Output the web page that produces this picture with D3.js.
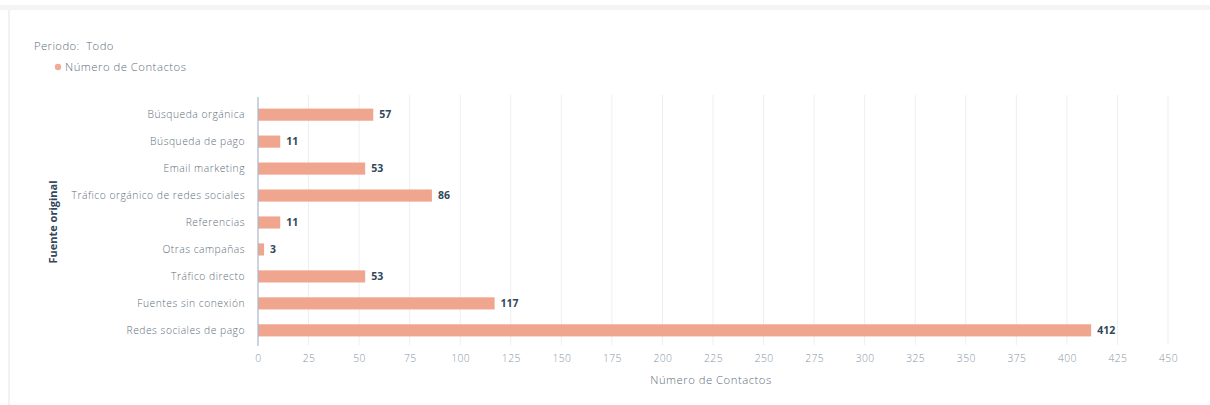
<!DOCTYPE html>
<html>
<head>
<meta charset="utf-8">
<script src="https://cdn.jsdelivr.net/npm/d3@7"></script>
<style>
  html, body { margin: 0; padding: 0; background: #fff; }
  body { width: 1210px; height: 405px; overflow: hidden; }
  svg { display: block; font-family: "Open Sans", "Noto Sans", sans-serif; }
</style>
</head>
<body>
<svg id="chart" width="1210" height="405"></svg>
<script>
const categories = [
  "Búsqueda orgánica",
  "Búsqueda de pago",
  "Email marketing",
  "Tráfico orgánico de redes sociales",
  "Referencias",
  "Otras campañas",
  "Tráfico directo",
  "Fuentes sin conexión",
  "Redes sociales de pago"
];
const contactValues = [57, 11, 53, 86, 11, 3, 53, 117, 412];
const xTicks = [0, 25, 50, 75, 100, 125, 150, 175, 200, 225, 250, 275, 300, 325, 350, 375, 400, 425, 450];
const periodLabel = "Periodo:  Todo";
const seriesName = "Número de Contactos";
const xAxisTitle = "Número de Contactos";
const yAxisTitle = "Fuente original";

const svg = d3.select("#chart");
const barColor = "#f0a58e";
const textColor = "#5f6e7d";
const valueColor = "#33475b";

// card frame
svg.append("rect").attr("x", 0).attr("y", 5).attr("width", 1210).attr("height", 5).attr("fill", "#f4f4f4");
svg.append("rect").attr("x", 8).attr("y", 10).attr("width", 2).attr("height", 395).attr("fill", "#f2f2f2");

const x = d3.scaleLinear().domain([0, 450]).range([258, 1168]);
const y = d3.scaleBand().domain(categories).range([100.5, 344.5]).paddingInner(0.55).paddingOuter(0.3);

// gridlines
svg.append("g").selectAll("line").data(xTicks.slice(1)).join("line")
  .attr("x1", d => x(d)).attr("x2", d => x(d))
  .attr("y1", 95).attr("y2", 345)
  .attr("stroke", "#eceff2").attr("stroke-width", 1);

// bars
svg.append("g").selectAll("rect").data(categories).join("rect")
  .attr("x", x(0))
  .attr("y", d => y(d))
  .attr("width", (d, i) => x(contactValues[i]) - x(0))
  .attr("height", y.bandwidth())
  .attr("fill", barColor);

// value labels
svg.append("g").selectAll("text").data(categories).join("text")
  .attr("x", (d, i) => x(contactValues[i]) + 6)
  .attr("y", d => y(d) + y.bandwidth() / 2)
  .attr("dy", "0.35em")
  .attr("font-size", 10.5)
  .attr("font-weight", 700)
  .attr("fill", valueColor)
  .text((d, i) => contactValues[i]);

// y axis
const yAxis = svg.append("g").attr("transform", `translate(${x(0)},0)`)
  .call(d3.axisLeft(y).tickSize(0).tickPadding(13));
yAxis.select(".domain").remove();
yAxis.selectAll("text").attr("font-size", 10.3).attr("fill", textColor)
  .attr("font-family", "'Open Sans', sans-serif").attr("font-weight", 300)
  .attr("letter-spacing", 0.5);
svg.append("line").attr("x1", x(0)).attr("x2", x(0)).attr("y1", 97).attr("y2", 346)
  .attr("stroke", "#a8b9cc").attr("stroke-width", 1.2);

// x axis
const xAxis = svg.append("g").attr("transform", "translate(0,345)")
  .call(d3.axisBottom(x).tickValues(xTicks).tickSize(0).tickPadding(10));
xAxis.select(".domain").remove();
xAxis.selectAll("text").attr("font-size", 10.3).attr("fill", "#8795a3")
  .attr("font-family", "'Open Sans', sans-serif").attr("font-weight", 300)
  .attr("letter-spacing", 0.4);

// axis titles
svg.append("text").attr("x", (x(0) + x(450)) / 2 - 2).attr("y", 384)
  .attr("text-anchor", "middle").attr("font-size", 11.3).attr("fill", textColor).attr("font-weight", 300)
  .attr("letter-spacing", 0.5)
  .text(xAxisTitle);
svg.append("text").attr("transform", "translate(57,222) rotate(-90)")
  .attr("text-anchor", "middle").attr("font-size", 11).attr("font-weight", 700).attr("fill", valueColor)
  .text(yAxisTitle);

// header
svg.append("text").attr("x", 34).attr("y", 50).attr("font-size", 11.3).attr("fill", textColor).attr("font-weight", 300)
  .attr("letter-spacing", 0.4)
  .attr("xml:space", "preserve").style("white-space", "pre").text(periodLabel);
svg.append("circle").attr("cx", 58).attr("cy", 67).attr("r", 3.2).attr("fill", "#f2ab96");
svg.append("text").attr("x", 65).attr("y", 71).attr("font-size", 11.3).attr("fill", textColor).attr("font-weight", 300)
  .attr("letter-spacing", 0.5)
  .text(seriesName);
</script>
</body>
</html>
